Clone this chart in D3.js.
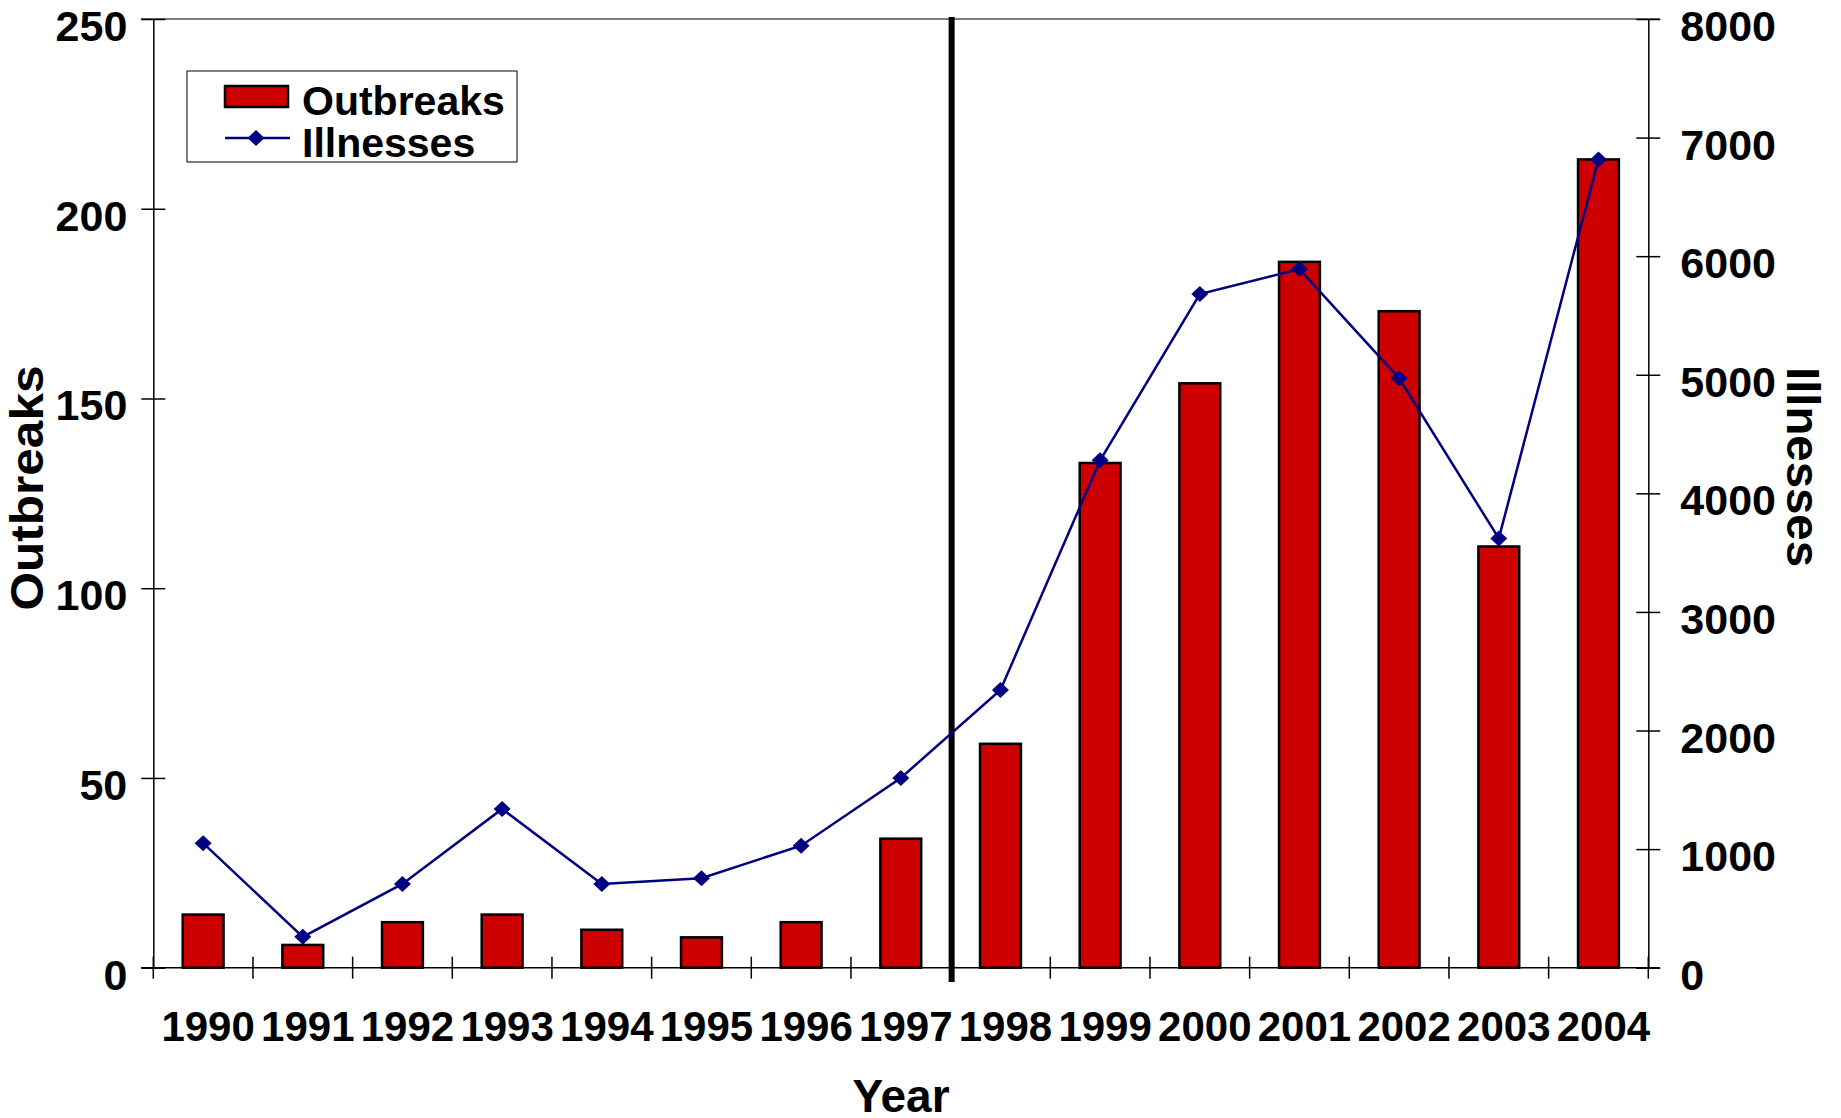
<!DOCTYPE html>
<html>
<head>
<meta charset="utf-8">
<script src="https://cdn.jsdelivr.net/npm/d3@7"></script>
<style>
  html, body { margin: 0; padding: 0; background: #fff; }
  svg { display: block; }
  text { font-family: "Liberation Sans", Arial, sans-serif; font-weight: bold; fill: #000; }
</style>
</head>
<body>
<svg id="chart" width="1841" height="1118"></svg>
<script>
const years = ["1990","1991","1992","1993","1994","1995","1996","1997","1998","1999","2000","2001","2002","2003","2004"];
const outbreaks = [14, 6, 12, 14, 10, 8, 12, 34, 59, 133, 154, 186, 173, 111, 213];
const illnesses = [1050, 260, 706, 1339, 706, 755, 1029, 1600, 2342, 4279, 5680, 5891, 4970, 3620, 6816];
const leftTicks = [0, 50, 100, 150, 200, 250];
const rightTicks = [0, 1000, 2000, 3000, 4000, 5000, 6000, 7000, 8000];
const dividerAfter = "1997";

const svg = d3.select("#chart");
const L = 153.3, R = 1648.3, T = 19, B = 967.7;

const x = d3.scaleBand().domain(years).range([L, R]).paddingInner(0.59).paddingOuter(0.295);
const xc = d3.scaleBand().domain(years).range([L, R]);
const yL = d3.scaleLinear().domain([0, 250]).range([B, T]);
const yR = d3.scaleLinear().domain([0, 8000]).range([B, T]);

// top border
svg.append("line").attr("x1", 141).attr("x2", 1660).attr("y1", T).attr("y2", T)
  .attr("stroke", "#555").attr("stroke-width", 1.5);

// left axis
const gL = svg.append("g").attr("transform", `translate(${L},0)`)
  .call(d3.axisLeft(yL).tickValues(leftTicks).tickFormat(d3.format("d")).tickSize(0).tickPadding(26));
gL.select(".domain").attr("stroke", "#000").attr("stroke-width", 1.5);
gL.selectAll(".tick text").attr("font-size", 43).attr("dy", "0.5em")
  .attr("font-family", "Liberation Sans, Arial, sans-serif").attr("font-weight", "bold").attr("fill", "#000");
gL.selectAll(".tick").append("line").attr("x1", -12).attr("x2", 12).attr("stroke", "#000").attr("stroke-width", 1.5);

// right axis
const gR = svg.append("g").attr("transform", `translate(${R},0)`)
  .call(d3.axisRight(yR).tickValues(rightTicks).tickFormat(d3.format("d")).tickSize(0).tickPadding(32));
gR.select(".domain").attr("stroke", "#000").attr("stroke-width", 1.5);
gR.selectAll(".tick text").attr("font-size", 43).attr("dy", "0.5em")
  .attr("font-family", "Liberation Sans, Arial, sans-serif").attr("font-weight", "bold").attr("fill", "#000");
gR.selectAll(".tick").append("line").attr("x1", -12).attr("x2", 12).attr("stroke", "#000").attr("stroke-width", 1.5);

// x axis
svg.append("line").attr("x1", 141).attr("x2", 1660).attr("y1", B).attr("y2", B)
  .attr("stroke", "#000").attr("stroke-width", 1.5);
const bounds = years.map(d => xc(d)).concat([R]);
svg.append("g").selectAll("line").data(bounds).join("line")
  .attr("x1", d => d).attr("x2", d => d).attr("y1", B - 11).attr("y2", B + 11)
  .attr("stroke", "#000").attr("stroke-width", 1.5);
svg.append("g").selectAll("text").data(years).join("text")
  .attr("x", d => xc(d) + xc.bandwidth() / 2 + 5).attr("y", 1041)
  .attr("text-anchor", "middle").attr("font-size", 42).text(d => d);

// bars
svg.append("g").selectAll("rect").data(years).join("rect")
  .attr("x", d => x(d)).attr("width", x.bandwidth())
  .attr("y", (d, i) => yL(outbreaks[i])).attr("height", (d, i) => B - yL(outbreaks[i]))
  .attr("fill", "#CC0000").attr("stroke", "#000").attr("stroke-width", 2.5);

// divider
const dx = xc(dividerAfter) + xc.bandwidth() + 1;
svg.append("line").attr("x1", dx).attr("x2", dx).attr("y1", 17).attr("y2", 982)
  .attr("stroke", "#000").attr("stroke-width", 6);

// illness line
const line = d3.line().x((d, i) => xc(years[i]) + xc.bandwidth() / 2).y(d => yR(d));
svg.append("path").datum(illnesses).attr("d", line)
  .attr("fill", "none").attr("stroke", "#000080").attr("stroke-width", 2.5);
const diamond = "M0,-8 L8.5,0 L0,8 L-8.5,0 Z";
svg.append("g").selectAll("path").data(illnesses).join("path")
  .attr("d", diamond)
  .attr("transform", (d, i) => `translate(${xc(years[i]) + xc.bandwidth() / 2},${yR(d)})`)
  .attr("fill", "#000080");

// axis titles
svg.append("text").attr("transform", "translate(43,488) rotate(-90)")
  .attr("text-anchor", "middle").attr("font-size", 46)
  .attr("textLength", 245).attr("lengthAdjust", "spacingAndGlyphs").text("Outbreaks");
svg.append("text").attr("transform", "translate(1787,467) rotate(90)")
  .attr("text-anchor", "middle").attr("font-size", 47)
  .attr("textLength", 200).attr("lengthAdjust", "spacingAndGlyphs").text("Illnesses");
svg.append("text").attr("x", 901).attr("y", 1112).attr("text-anchor", "middle")
  .attr("font-size", 46).text("Year");

// legend
const lg = svg.append("g");
lg.append("rect").attr("x", 187).attr("y", 71).attr("width", 330).attr("height", 91)
  .attr("fill", "#fff").attr("stroke", "#000").attr("stroke-width", 1);
lg.append("rect").attr("x", 225).attr("y", 86).attr("width", 63).attr("height", 21)
  .attr("fill", "#CC0000").attr("stroke", "#000").attr("stroke-width", 2.5);
lg.append("text").attr("x", 302).attr("y", 115).attr("font-size", 41).text("Outbreaks");
lg.append("line").attr("x1", 225).attr("x2", 290).attr("y1", 138).attr("y2", 138)
  .attr("stroke", "#000080").attr("stroke-width", 2.5);
lg.append("path").attr("d", diamond).attr("transform", "translate(256,138)").attr("fill", "#000080");
lg.append("text").attr("x", 302).attr("y", 157).attr("font-size", 41).text("Illnesses");
</script>
</body>
</html>
